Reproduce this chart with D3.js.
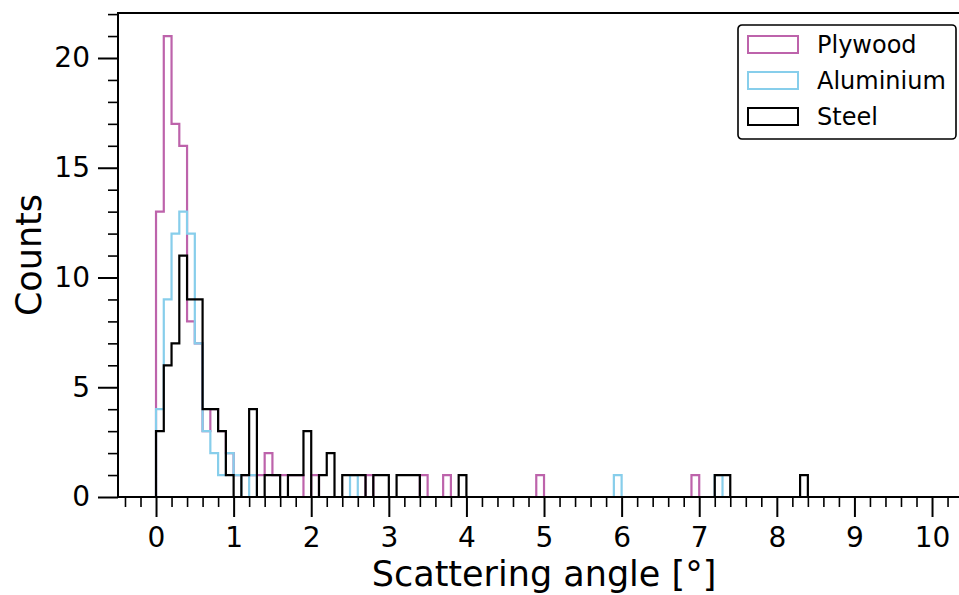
<!DOCTYPE html>
<html>
<head>
<meta charset="utf-8">
<script src="https://cdn.jsdelivr.net/npm/d3@7"></script>
<style>
  body { margin: 0; background: #fff; }
  text { font-family: "DejaVu Sans", sans-serif; fill: #000; }
</style>
</head>
<body>
<div id="chart"></div>
<script>
// counts per 0.1 degree bin, starting at 0
const binWidth = 0.1;
const plywood = [
  13, 21, 17, 16, 8, 7, 3, 4, 3, 2,
  1, 1, 1, 1, 2, 1, 1, 1, 1, 0,
  1, 0, 0, 0, 0, 0, 0, 1, 0, 0,
  0, 0, 0, 0, 1, 0, 0, 1, 0, 0,
  0, 0, 0, 0, 0, 0, 0, 0, 0, 1,
  0, 0, 0, 0, 0, 0, 0, 0, 0, 0,
  0, 0, 0, 0, 0, 0, 0, 0, 0, 1,
  0, 0, 0, 0, 0, 0, 0, 0, 0, 0,
  0, 0, 0, 0, 0, 0, 0, 0, 0, 0,
  0, 0, 0, 0, 0, 0, 0, 0, 0, 0
];
const aluminium = [
  4, 9, 12, 13, 12, 7, 3, 2, 1, 2,
  1, 0, 1, 0, 0, 0, 0, 0, 0, 0,
  0, 0, 0, 0, 0, 1, 0, 0, 0, 0,
  0, 0, 0, 0, 0, 0, 0, 0, 0, 0,
  0, 0, 0, 0, 0, 0, 0, 0, 0, 0,
  0, 0, 0, 0, 0, 0, 0, 0, 0, 1,
  0, 0, 0, 0, 0, 0, 0, 0, 0, 0,
  0, 0, 1, 0, 0, 0, 0, 0, 0, 0,
  0, 0, 0, 0, 0, 0, 0, 0, 0, 0,
  0, 0, 0, 0, 0, 0, 0, 0, 0, 0
];
const steel = [
  3, 6, 7, 11, 9, 9, 4, 4, 3, 1,
  0, 1, 4, 0, 1, 1, 0, 1, 1, 3,
  0, 1, 2, 0, 1, 1, 1, 0, 1, 1,
  0, 1, 1, 1, 0, 0, 0, 0, 0, 1,
  0, 0, 0, 0, 0, 0, 0, 0, 0, 0,
  0, 0, 0, 0, 0, 0, 0, 0, 0, 0,
  0, 0, 0, 0, 0, 0, 0, 0, 0, 0,
  0, 0, 1, 1, 0, 0, 0, 0, 0, 0,
  0, 0, 0, 1, 0, 0, 0, 0, 0, 0,
  0, 0, 0, 0, 0, 0, 0, 0, 0, 0
];
const seriesNames = ["Plywood", "Aluminium", "Steel"];
const seriesColors = ["#bd63ab", "#87ceeb", "#000000"];
const xTicks = [0, 1, 2, 3, 4, 5, 6, 7, 8, 9, 10];
const yTicks = [0, 5, 10, 15, 20];

const width = 959, height = 595;
const xLim = [-0.49, 10.5], yLim = [0, 22.05];
const plot = {left: 118, top: 13, bottom: 497};
const pxPerUnit = 77.6;

const xScale = d3.scaleLinear()
  .domain(xLim)
  .range([plot.left, plot.left + (xLim[1] - xLim[0]) * pxPerUnit]);
const yScale = d3.scaleLinear()
  .domain(yLim)
  .range([plot.bottom, plot.top]);

const svg = d3.select("#chart").append("svg")
  .attr("width", width)
  .attr("height", height);

// step outlines
function stepPath(counts) {
  let pts = [[0, 0]];
  counts.forEach((c, i) => {
    pts.push([i * binWidth, c]);
    pts.push([(i + 1) * binWidth, c]);
  });
  pts.push([counts.length * binWidth, 0]);
  return d3.line().x(d => xScale(d[0])).y(d => yScale(d[1]))(pts);
}

[plywood, aluminium, steel].forEach((counts, i) => {
  svg.append("path")
    .attr("d", stepPath(counts))
    .attr("fill", "none")
    .attr("stroke", seriesColors[i])
    .attr("stroke-width", 2.2)
    .attr("stroke-linejoin", "miter");
});

// minor ticks
const xMinor = d3.range(-4, 106, 2).map(d => d / 10).filter(d => d % 1 !== 0);
const yMinor = d3.range(0, 23).filter(d => d % 5 !== 0);

svg.append("g")
  .attr("transform", "translate(0," + plot.bottom + ")")
  .call(d3.axisBottom(xScale).tickValues(xMinor).tickSize(10).tickFormat(""))
  .call(g => g.select(".domain").remove())
  .call(g => g.selectAll("line").attr("stroke-width", 1.6));

svg.append("g")
  .attr("transform", "translate(" + plot.left + ",0)")
  .call(d3.axisLeft(yScale).tickValues(yMinor).tickSize(10).tickFormat(""))
  .call(g => g.select(".domain").remove())
  .call(g => g.selectAll("line").attr("stroke-width", 1.6));

// major ticks
svg.append("g")
  .attr("transform", "translate(0," + plot.bottom + ")")
  .call(d3.axisBottom(xScale).tickValues(xTicks).tickSize(20).tickPadding(10))
  .call(g => g.select(".domain").remove())
  .call(g => g.selectAll("line").attr("stroke-width", 2))
  .call(g => g.selectAll("text").attr("font-size", 28).attr("font-family", "DejaVu Sans"));

svg.append("g")
  .attr("transform", "translate(" + plot.left + ",0)")
  .call(d3.axisLeft(yScale).tickValues(yTicks).tickSize(20).tickPadding(8))
  .call(g => g.select(".domain").remove())
  .call(g => g.selectAll("line").attr("stroke-width", 2))
  .call(g => g.selectAll("text").attr("font-size", 28).attr("font-family", "DejaVu Sans"));

// spines
svg.append("path")
  .attr("d", "M" + xScale.range()[1] + "," + plot.top + "H" + plot.left + "V" + plot.bottom + "H" + xScale.range()[1])
  .attr("fill", "none")
  .attr("stroke", "#000")
  .attr("stroke-width", 2);

// axis labels
svg.append("text")
  .attr("x", xScale(5))
  .attr("y", 586)
  .attr("text-anchor", "middle")
  .attr("font-size", 35)
  .text("Scattering angle [°]");

svg.append("text")
  .attr("transform", "translate(41," + yScale(yLim[1] / 2) + ") rotate(-90)")
  .attr("text-anchor", "middle")
  .attr("font-size", 35)
  .text("Counts");

// legend
const legend = svg.append("g").attr("transform", "translate(738,25)");
legend.append("rect")
  .attr("width", 218)
  .attr("height", 114)
  .attr("rx", 4)
  .attr("fill", "#fff")
  .attr("stroke", "#000")
  .attr("stroke-width", 1.6);

seriesNames.forEach((name, i) => {
  const row = legend.append("g").attr("transform", "translate(0," + (i * 36) + ")");
  row.append("rect")
    .attr("x", 10)
    .attr("y", 11)
    .attr("width", 50)
    .attr("height", 17)
    .attr("fill", "#fff")
    .attr("stroke", seriesColors[i])
    .attr("stroke-width", 2);
  row.append("text")
    .attr("x", 79)
    .attr("y", 28)
    .attr("font-size", 24)
    .text(name);
});
</script>
</body>
</html>
